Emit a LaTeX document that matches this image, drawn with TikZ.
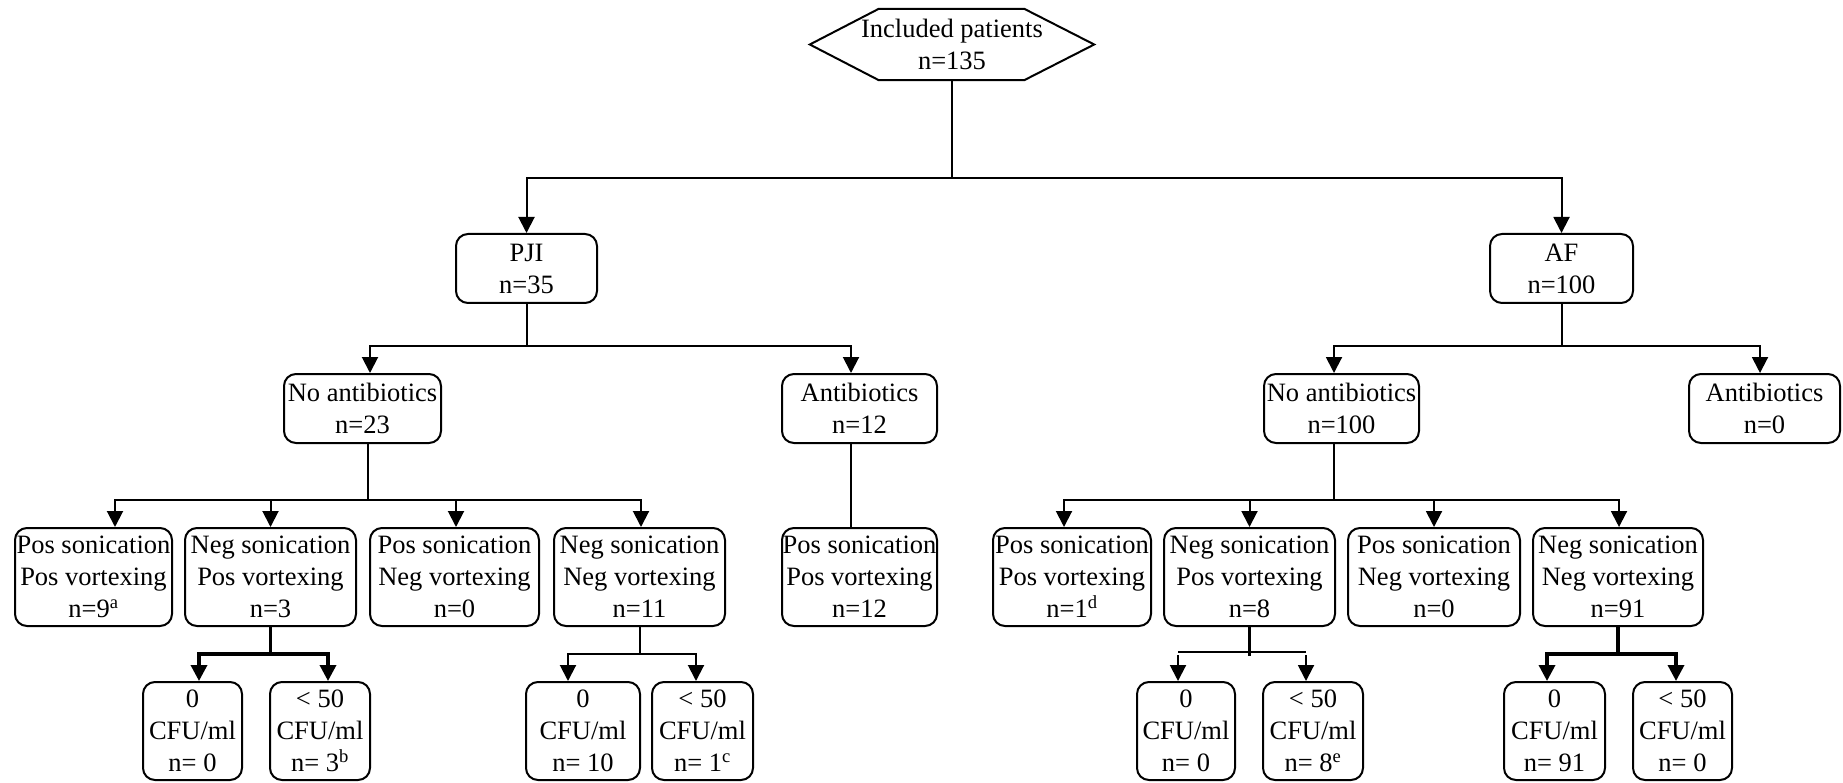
\documentclass[tikz,border=0pt]{standalone}
\usepackage{fontspec}
\setmainfont{Liberation Serif}
\usetikzlibrary{arrows.meta,calc}
\begin{document}
\begin{tikzpicture}[x=1pt,y=-1pt,
  txt/.style={align=center, inner sep=0pt, font=\fontsize{26.5}{32}\selectfont},
  box/.style={txt, draw, line width=2pt, rounded corners=12pt},
  ln/.style={line width=2pt},
  thk/.style={line width=3.5pt},
  arr/.style={line width=2pt, -{Triangle[width=16pt,length=16pt]}},
  tarr/.style={line width=3.5pt, -{Triangle[width=16pt,length=16pt]}},
]
\useasboundingbox (0,0) rectangle (1843,783);

% top hexagon
\node[txt, minimum width=284pt, minimum height=71pt] (inc) at (952,44.5) {Included patients\\n=135};
\draw[ln] (inc.west) -- ([xshift=69pt]inc.north west) -- ([xshift=-70pt]inc.north east)
  -- (inc.east) -- ([xshift=-70pt]inc.south east) -- ([xshift=69pt]inc.south west) -- cycle;

% level 1
\node[box, minimum width=141pt, minimum height=69pt] (pji) at (526.5,268.5) {PJI\\n=35};
\node[box, minimum width=143pt, minimum height=69pt] (af) at (1561.5,268.5) {AF\\n=100};

% level 2
\node[box, minimum width=157pt, minimum height=69pt] (pna) at (362.5,408.5) {No antibiotics\\n=23};
\node[box, minimum width=155pt, minimum height=69pt] (pab) at (859.5,408.5) {Antibiotics\\n=12};
\node[box, minimum width=155pt, minimum height=69pt] (ana) at (1341.5,408.5) {No antibiotics\\n=100};
\node[box, minimum width=151pt, minimum height=69pt] (aab) at (1764.5,408.5) {Antibiotics\\n=0};

% level 3
\node[box, minimum width=157pt, minimum height=98pt] (b1) at (93.5,577) {Pos sonication\\Pos vortexing\\n=9\textsuperscript{a}};
\node[box, minimum width=171pt, minimum height=98pt] (b2) at (270.5,577) {Neg sonication\\Pos vortexing\\n=3};
\node[box, minimum width=169pt, minimum height=98pt] (b3) at (454.5,577) {Pos sonication\\Neg vortexing\\n=0};
\node[box, minimum width=171pt, minimum height=98pt] (b4) at (639.5,577) {Neg sonication\\Neg vortexing\\n=11};
\node[box, minimum width=155pt, minimum height=98pt] (b5) at (859.5,577) {Pos sonication\\Pos vortexing\\n=12};
\node[box, minimum width=158pt, minimum height=98pt] (b6) at (1072,577) {Pos sonication\\Pos vortexing\\n=1\textsuperscript{d}};
\node[box, minimum width=171pt, minimum height=98pt] (b7) at (1249.5,577) {Neg sonication\\Pos vortexing\\n=8};
\node[box, minimum width=172pt, minimum height=98pt] (b8) at (1434,577) {Pos sonication\\Neg vortexing\\n=0};
\node[box, minimum width=170pt, minimum height=98pt] (b9) at (1618,577) {Neg sonication\\Neg vortexing\\n=91};

% level 4
\node[box, minimum width=99pt, minimum height=98pt] (c1) at (192.5,731) {0\\CFU/ml\\n= 0};
\node[box, minimum width=100pt, minimum height=98pt] (c2) at (320,731) {< 50\\CFU/ml\\n= 3\textsuperscript{b}};
\node[box, minimum width=114pt, minimum height=98pt] (c3) at (583,731) {0\\CFU/ml\\n= 10};
\node[box, minimum width=101pt, minimum height=98pt] (c4) at (702.5,731) {< 50\\CFU/ml\\n= 1\textsuperscript{c}};
\node[box, minimum width=98pt, minimum height=98pt] (c5) at (1186,731) {0\\CFU/ml\\n= 0};
\node[box, minimum width=100pt, minimum height=98pt] (c6) at (1313,731) {< 50\\CFU/ml\\n= 8\textsuperscript{e}};
\node[box, minimum width=101pt, minimum height=98pt] (c7) at (1554.5,731) {0\\CFU/ml\\n= 91};
\node[box, minimum width=99pt, minimum height=98pt] (c8) at (1682.5,731) {< 50\\CFU/ml\\n= 0};

% connectors level 0 -> 1
\coordinate (j0) at (952,178);
\draw[ln] (inc.south) -- (j0);
\draw[arr] (j0) -| (pji.north);
\draw[arr] (j0) -| (af.north);

% level 1 -> 2
\coordinate (j1) at (526.5,346);
\coordinate (x1) at (370,346);
\coordinate (x2) at (851,346);
\draw[ln] (pji.south) -- (j1);
\draw[arr] (j1) -| (x1 |- pna.north);
\draw[arr] (j1) -| (x2 |- pab.north);
\coordinate (j2) at (1561.5,346);
\coordinate (x3) at (1334,346);
\coordinate (x4) at (1760,346);
\draw[ln] (af.south) -- (j2);
\draw[arr] (j2) -| (x3 |- ana.north);
\draw[arr] (j2) -| (x4 |- aab.north);

% level 2 -> 3 (PJI)
\coordinate (s1) at (368,500);
\coordinate (h1) at (115,500);
\coordinate (h2) at (270.5,500);
\coordinate (h3) at (456,500);
\coordinate (h4) at (641,500);
\draw[ln] (pna.south -| s1) -- (s1);
\draw[arr] (s1) -| (h1 |- b1.north);
\draw[arr] (s1) -| (h4 |- b4.north);
\draw[arr] (h2) -- (h2 |- b2.north);
\draw[arr] (h3) -- (h3 |- b3.north);
\coordinate (h5) at (851,500);
\draw[ln] (pab.south -| h5) -- (b5.north -| h5);

% level 2 -> 3 (AF)
\coordinate (s2) at (1334,500);
\coordinate (g1) at (1064,500);
\coordinate (g2) at (1249.5,500);
\coordinate (g3) at (1434,500);
\coordinate (g4) at (1619,500);
\draw[ln] (ana.south -| s2) -- (s2);
\draw[arr] (s2) -| (g1 |- b6.north);
\draw[arr] (s2) -| (g4 |- b9.north);
\draw[arr] (g2) -- (g2 |- b7.north);
\draw[arr] (g3) -- (g3 |- b8.north);

% level 3 -> 4
\coordinate (t1) at (270.5,654);
\coordinate (k1) at (199,654);
\coordinate (k2) at (328,654);
\draw[thk] (b2.south) -- (t1);
\draw[tarr] (t1) -| (k1 |- c1.north);
\draw[tarr] (t1) -| (k2 |- c2.north);

\coordinate (t2) at (639.5,654);
\coordinate (k3) at (568,654);
\coordinate (k4) at (696,654);
\draw[ln] (b4.south) -- (t2);
\draw[arr] (t2) -| (k3 |- c3.north);
\draw[arr] (t2) -| (k4 |- c4.north);

\coordinate (t3) at (1249.5,656);
\coordinate (k5a) at (1178,652);
\coordinate (k6a) at (1306,652);
\coordinate (k5) at (1178,655);
\coordinate (k6) at (1306,655);
\draw[thk] (b7.south) -- (t3);
\draw[ln] (k5a) -- (k6a);
\draw[arr] (k5) -- (k5 |- c5.north);
\draw[arr] (k6) -- (k6 |- c6.north);

\coordinate (t4) at (1618,654);
\coordinate (k7) at (1547,654);
\coordinate (k8) at (1676,654);
\draw[thk] (b9.south) -- (t4);
\draw[tarr] (t4) -| (k7 |- c7.north);
\draw[tarr] (t4) -| (k8 |- c8.north);
\end{tikzpicture}
\end{document}
